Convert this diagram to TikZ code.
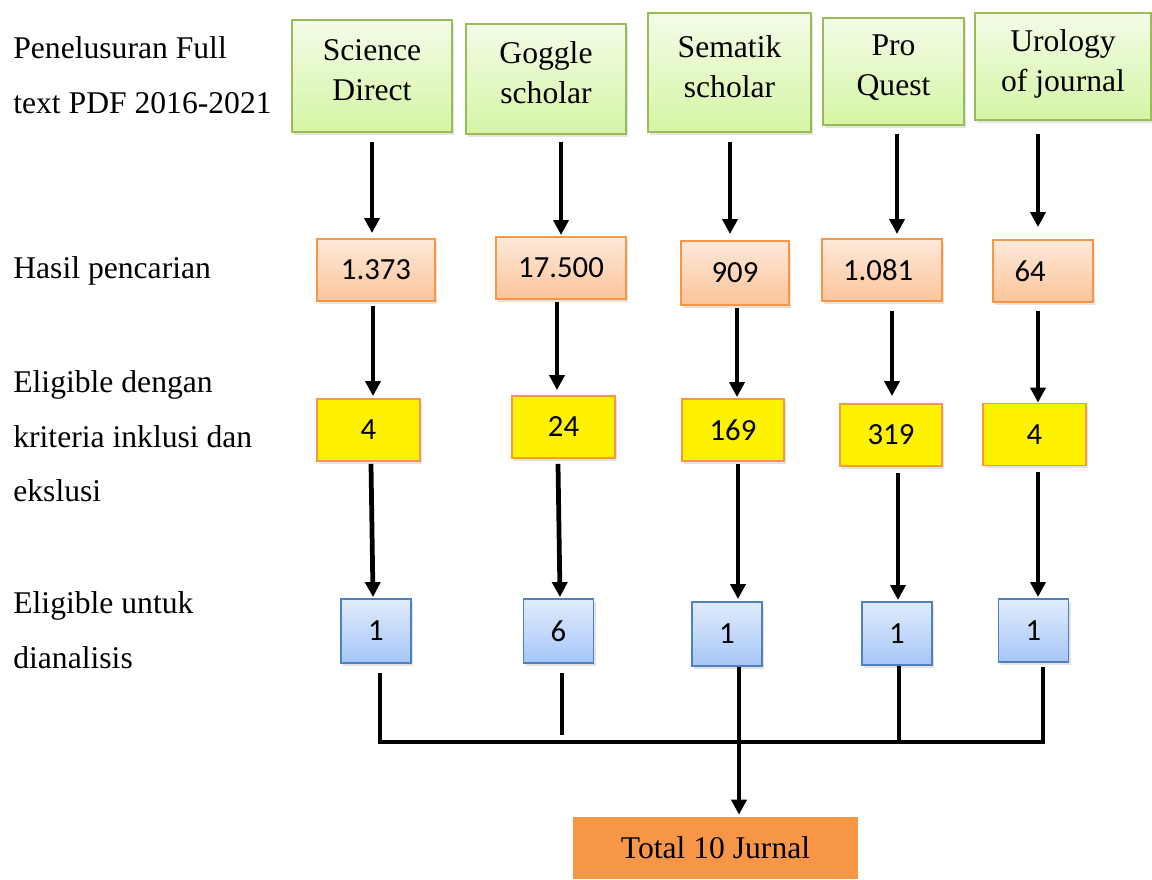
\documentclass[tikz,border=0pt]{standalone}
\usepackage{fontspec}
\setmainfont{Liberation Serif}
\newfontfamily\numfont{Carlito}
\usepackage{tikz}
\usetikzlibrary{
    arrows.meta,
    calc,
    shadows
}

\definecolor{srcborder}{HTML}{9BBB59}
\definecolor{srctop}{HTML}{F3FCE8}
\definecolor{srcbot}{HTML}{D5F5A4}
\definecolor{hitborder}{HTML}{F79646}
\definecolor{hittop}{HTML}{FEE9DA}
\definecolor{hitbot}{HTML}{FBC49A}
\definecolor{anaborder}{HTML}{4F81BD}
\definecolor{anatop}{HTML}{E0ECFC}
\definecolor{anabot}{HTML}{A6C6F7}
\definecolor{totalfill}{HTML}{F79646}

\tikzset{
    box/.style={rectangle, inner sep=2pt, line width=1.1pt,
        drop shadow={shadow xshift=1.4pt, shadow yshift=-1.6pt, opacity=0.22}},
    source/.style={box, draw=srcborder, top color=srctop, bottom color=srcbot,
        align=center, font=\fontsize{18}{22.7}\selectfont, text depth=7pt},
    hits/.style={box, draw=hitborder, top color=hittop, bottom color=hitbot,
        font=\numfont\fontsize{17.5}{21}\selectfont, minimum height=1.24cm},
    eligible/.style={box, draw=hitborder, fill=yellow,
        font=\numfont\fontsize{17.5}{21}\selectfont, minimum height=1.24cm},
    analysed/.style={box, draw=anaborder, top color=anatop, bottom color=anabot,
        font=\numfont\fontsize{17.5}{21}\selectfont, minimum width=1.4cm, minimum height=1.28cm},
    total/.style={rectangle, fill=totalfill, font=\fontsize{18}{22}\selectfont,
        minimum width=5.7cm, minimum height=1.24cm},
    rowlabel/.style={anchor=north west, inner sep=0pt, align=left,
        font=\fontsize{18}{31.2}\selectfont},
    arr/.style={line width=2.7pt, -{Triangle[width=8.5pt, length=8.5pt]}},
    bus/.style={line width=2.7pt}
}

\begin{document}
\begin{tikzpicture}[x=0.02cm, y=-0.02cm]
    \useasboundingbox (0,0) rectangle (1152,879);

    % Row labels
    \node[rowlabel] (lsearch) at (13,36) {Penelusuran Full\\text PDF 2016-2021};
    \node[rowlabel] (lhits) at (13,256) {Hasil pencarian};
    \node[rowlabel] (lelig) at (13,370) {Eligible dengan\\kriteria inklusi dan\\ekslusi};
    \node[rowlabel] (lanal) at (13,591) {Eligible untuk\\dianalisis};

    % Databases
    \node[source, minimum width=3.2cm, minimum height=2.24cm] (g1) at (372,76) {Science\\Direct};
    \node[source, minimum width=3.2cm, minimum height=2.2cm] (g2) at (546,79) {Goggle\\scholar};
    \node[source, minimum width=3.26cm, minimum height=2.38cm] (g3) at (729.5,72.5) {Sematik\\scholar};
    \node[source, minimum width=2.82cm, minimum height=2.14cm] (g4) at (893.5,71.5) {Pro\\Quest};
    \node[source, minimum width=3.52cm, minimum height=2.14cm] (g5) at (1063,66.5) {Urology\\of journal};

    % Search results
    \node[hits, minimum width=2.36cm] (o1) at (376,270) {1.373};
    \node[hits, minimum width=2.6cm] (o2) at (561,268) {17.500};
    \node[hits, minimum width=2.16cm, minimum height=1.28cm] (o3) at (735,273) {909};
    \node[hits, minimum width=2.4cm] (o4) at (882,270) {1.081\rule{0.25em}{0pt}};
    \node[hits, minimum width=2.0cm] (o5) at (1043,271) {64\rule{0.84em}{0pt}};

    % Inclusion / exclusion
    \node[eligible, minimum width=2.06cm] (y1) at (368.5,430) {4};
    \node[eligible, minimum width=2.06cm] (y2) at (563.5,427) {24};
    \node[eligible, minimum width=2.04cm] (y3) at (733,430) {169};
    \node[eligible, minimum width=2.04cm] (y4) at (891,435) {319};
    \node[eligible, minimum width=2.06cm] (y5) at (1034.5,434.5) {4};

    % Analysed
    \node[analysed] (b1) at (376,631) {1};
    \node[analysed] (b2) at (558.5,631) {6};
    \node[analysed] (b3) at (727,634) {1};
    \node[analysed, minimum height=1.26cm] (b4) at (897,633.5) {1};
    \node[analysed, minimum height=1.26cm] (b5) at (1033.5,630.5) {1};

    % Total
    \node[total] (total) at (715.5,848) {Total 10 Jurnal};

    % Arrows databases -> results
    \draw[arr] ($(372,0 |- g1.south)+(0,9)$) -- ($(372,0 |- o1.north)+(0,-5)$);
    \draw[arr] ($(561,0 |- g2.south)+(0,7)$) -- ($(561,0 |- o2.north)+(0,-1)$);
    \draw[arr] ($(730,0 |- g3.south)+(0,9)$) -- ($(730,0 |- o3.north)+(0,-6)$);
    \draw[arr] ($(897,0 |- g4.south)+(0,8)$) -- ($(897,0 |- o4.north)+(0,-4)$);
    \draw[arr] ($(1038,0 |- g5.south)+(0,13)$) -- ($(1038,0 |- o5.north)+(0,-12)$);

    % Arrows results -> eligible
    \draw[arr] ($(373,0 |- o1.south)+(0,4)$) -- ($(373,0 |- y1.north)+(0,-2)$);
    \draw[arr] ($(557,0 |- o2.south)+(0,2)$) -- ($(557,0 |- y2.north)+(0,-5)$);
    \draw[arr] ($(737,0 |- o3.south)+(0,2)$) -- ($(737,0 |- y3.north)+(0,-1)$);
    \draw[arr] ($(892,0 |- o4.south)+(0,9)$) -- ($(892,0 |- y4.north)+(0,-7)$);
    \draw[arr] ($(1038,0 |- o5.south)+(0,8)$) -- (1038,0 |- y5.north);

    % Arrows eligible -> analysed
    \draw[arr] ($(371,0 |- y1.south)+(0,2)$) -- ($(373,0 |- b1.north)+(0,-1)$);
    \draw[arr] ($(558,0 |- y2.south)+(0,5)$) -- ($(560,0 |- b2.north)+(0,-1)$);
    \draw[arr] ($(738,0 |- y3.south)+(0,2)$) -- ($(738,0 |- b3.north)+(0,-2)$);
    \draw[arr] ($(898,0 |- y4.south)+(0,6)$) -- ($(898,0 |- b4.north)+(0,-1)$);
    \draw[arr] ($(1038,0 |- y5.south)+(0,6)$) -- ($(1038,0 |- b5.north)+(0,-1)$);

    % Collecting line
    \coordinate (busL) at (380,742);
    \coordinate (busR) at (1043,742);
    \draw[bus] ($(380,0 |- b1.south)+(0,9)$) -- (busL) -- (busR) -- ($(1043,0 |- b5.south)+(0,4)$);
    \draw[bus] ($(562,0 |- b2.south)+(0,9)$) -- ($(562,0 |- busL)+(0,-7)$);
    \draw[bus] (899,0 |- b4.south) -- (899,0 |- busR);
    \draw[arr] (739,0 |- b3.south) -- ($(739,0 |- total.north)+(0,-2)$);
\end{tikzpicture}
\end{document}
